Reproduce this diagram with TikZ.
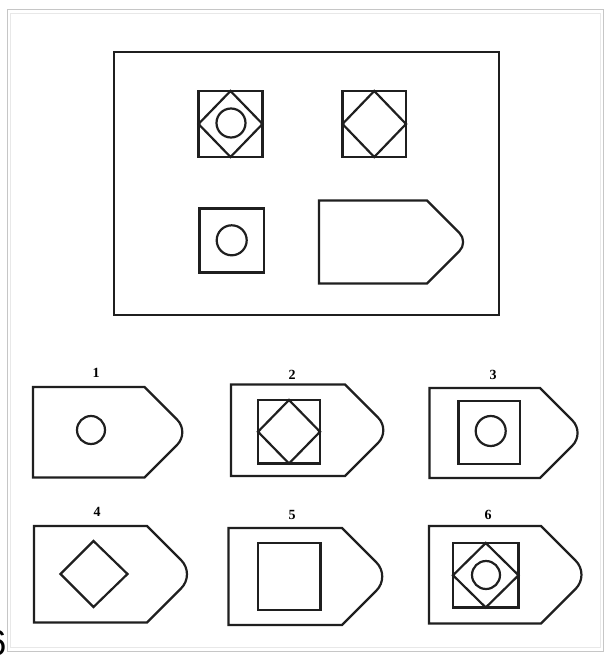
\documentclass[tikz,border=0pt]{standalone}
\usepackage{fontspec}
\setmainfont{Liberation Serif}
\newfontfamily\cutfont{Liberation Sans}
\newcommand\tagshape[5]{%
  \draw[shp] (#1,#2) -- (#3,#2) [rounded corners=#5] -- ({#3+(#4-#2)/2},{(#2+#4)/2}) [sharp corners] -- (#3,#4) -- (#1,#4) -- cycle;}
\newcommand\sqdiamond[4]{%
  \draw[shp] (#1,#2) rectangle (#3,#4);
  \draw[shp] ({(#1+#3)/2},#2) -- (#3,{(#2+#4)/2}) -- ({(#1+#3)/2},#4) -- (#1,{(#2+#4)/2}) -- cycle;}
\begin{document}
\begin{tikzpicture}[x=1pt,y=-1pt,
  shp/.style={draw=black!88,line width=2.2pt,line join=miter},
  lbl/.style={font=\fontsize{14}{14}\selectfont\bfseries,inner sep=0pt}]
\useasboundingbox (0,0) rectangle (604,658);
\fill[white] (0,0) rectangle (604,658);
% outer light frame
\draw[gray!45,line width=1pt] (7,10) rectangle (603.5,651);
\draw[gray!18,line width=1pt] (10.5,13.5) rectangle (600,647.5);
\begin{scope}
\clip (0,0) rectangle (604,658);
\node[font=\cutfont\fontsize{36}{36}\selectfont,anchor=east,inner sep=0pt] (cut6) at (6.5,643) {6};
\end{scope}
% main frame
\draw[draw=black!88,line width=2.8pt] (114,52) rectangle (499,315);
% top-left
\sqdiamond{198.5}{91}{262.5}{157}
\draw[shp] (231,123) circle (14.5);
% top-right
\sqdiamond{342.5}{91}{406}{157}
% bottom-left
\draw[shp] (199.5,208.5) rectangle (264,272.5);
\draw[shp] (231.7,240.3) circle (15);
% main tag
\tagshape{319}{200.5}{427}{283.5}{13}
% option 1
\node[lbl] (l1) at (96,373) {1};
\tagshape{33}{387}{144.5}{477.5}{18}
\draw[shp] (91,430) circle (14);
% option 2
\node[lbl] (l2) at (292,375) {2};
\tagshape{231}{384.5}{345}{476}{18}
\sqdiamond{258}{400}{320}{463.5}
% option 3
\node[lbl] (l3) at (493,375) {3};
\tagshape{429.5}{388}{540}{478}{18}
\draw[shp] (458.5,401) rectangle (520,464);
\draw[shp] (490.7,431) circle (15);
% option 4
\node[lbl] (l4) at (97,512) {4};
\tagshape{34}{526}{147}{622.5}{20}
\draw[shp] (93.5,541) -- (127.5,574) -- (93.5,607) -- (60.5,574) -- cycle;
% option 5
\node[lbl] (l5) at (292,515) {5};
\tagshape{228.5}{528}{342}{625}{20}
\draw[shp] (258,543) rectangle (320.5,610);
% option 6
\node[lbl] (l6) at (488,515) {6};
\tagshape{429}{526}{541}{623.5}{20}
\sqdiamond{453}{543}{518.5}{607.5}
\draw[shp] (486,575) circle (14);
\end{tikzpicture}
\end{document}
